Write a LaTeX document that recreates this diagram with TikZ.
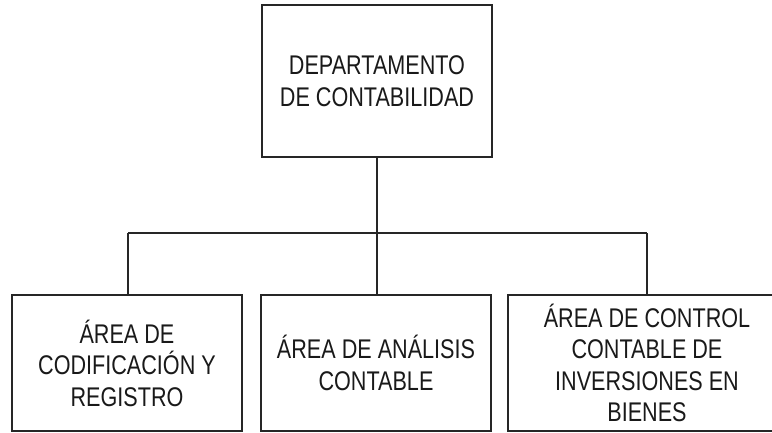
\documentclass[tikz,border=0pt]{standalone}
\usepackage{fontspec}
\setmainfont[FakeStretch=0.80]{Liberation Sans}
\begin{document}
\begin{tikzpicture}[x=1pt,y=-1pt,
  box/.style={draw=black!85, line width=1.2pt, rectangle, inner sep=0pt, align=center,
    font=\fontsize{27}{31.5}\selectfont, text=black!90},
  link/.style={draw=black!85, line width=1.2pt}]
\useasboundingbox (0,0) rectangle (772,432);
\clip (0,0) rectangle (772,432);
\node[box, minimum width=230pt, minimum height=152pt] (dep) at (377,81) {DEPARTAMENTO\\DE CONTABILIDAD};
\node[box, minimum width=230pt, minimum height=136pt] (a1) at (127,363) {ÁREA DE\\CODIFICACIÓN Y\\REGISTRO};
\node[box, minimum width=230pt, minimum height=136pt] (a2) at (376,363) {ÁREA DE ANÁLISIS\\CONTABLE};
\node[box, draw=none, minimum width=300pt, minimum height=136pt] (a3) at (647,363) {ÁREA DE CONTROL\\CONTABLE DE\\INVERSIONES EN\\BIENES};
\draw[link] (508,295) rectangle (800,431);
\coordinate (busL) at (128,233);
\coordinate (busM) at (377,233);
\coordinate (busR) at (647,233);
\draw[link] (dep.south) -- (busM);
\draw[link] (busL) -- (busR);
\draw[link] (busL) -- (busL |- a1.north);
\draw[link] (busM) -- (busM |- a2.north);
\draw[link] (busR) -- (busR |- a3.north);
\end{tikzpicture}
\end{document}
